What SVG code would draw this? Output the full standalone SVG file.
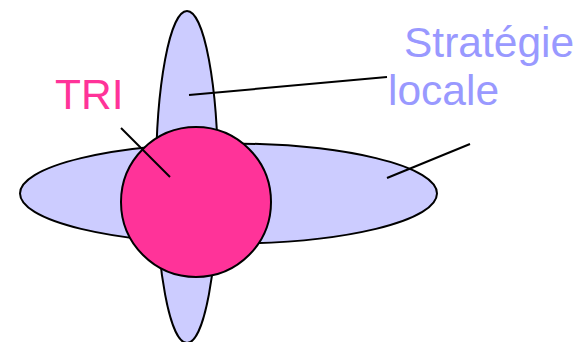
<svg xmlns="http://www.w3.org/2000/svg" width="579" height="342" viewBox="0 0 579 342">
<style>
.shape{fill:#CCCCFF;stroke:#000;stroke-width:2}
.tri{fill:#FF3399;stroke:#000;stroke-width:2}
.lbl{font-family:"Liberation Sans",Arial,sans-serif;font-size:42.5px}
.conn line{stroke:#000;stroke-width:2}
</style>
<g id="strategie-vertical"><ellipse class="shape" cx="187" cy="177" rx="31" ry="166"/></g>
<g id="strategie-horizontal"><ellipse class="shape" cx="228.5" cy="193.5" rx="208.5" ry="50"/></g>
<g id="tri-circle"><circle class="tri" cx="196" cy="202" r="75"/></g>
<g id="label-tri"><text class="lbl" x="55" y="109" fill="#FF3399">TRI</text></g>
<g id="label-strategie"><text class="lbl" x="404" y="57" fill="#9999FF">Stratégie</text><text class="lbl" x="388" y="105" fill="#9999FF">locale</text></g>
<g id="connectors" class="conn">
<line x1="189" y1="95" x2="387" y2="77"/>
<line x1="387" y1="178" x2="470" y2="144"/>
<line x1="121" y1="128" x2="170" y2="177"/>
</g>
</svg>
